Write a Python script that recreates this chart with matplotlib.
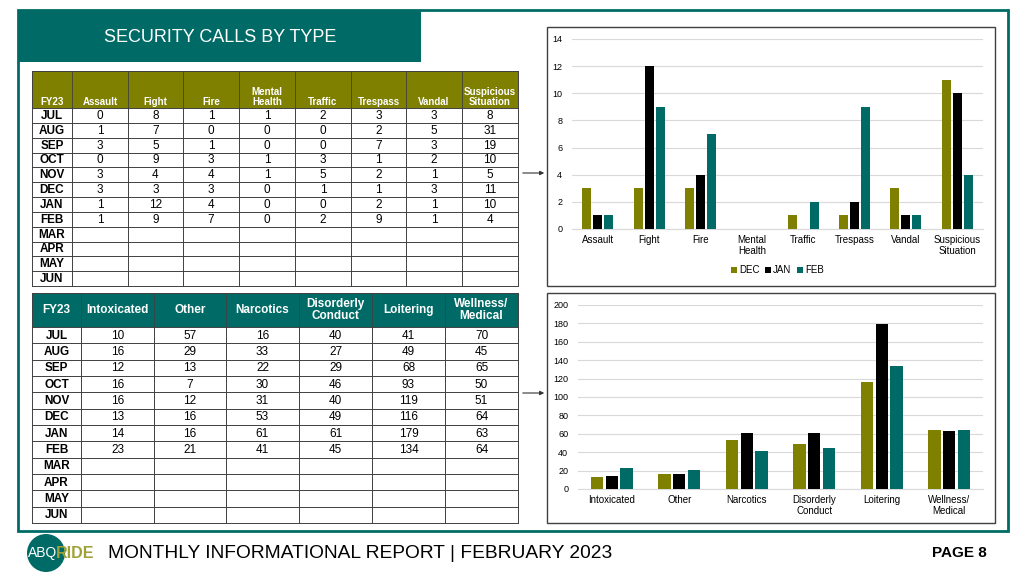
import numpy as np
import matplotlib
matplotlib.use('Agg')
import matplotlib.pyplot as plt
from matplotlib.patches import Rectangle, Circle

plt.rcParams['font.family'] = ['Liberation Sans', 'DejaVu Sans']

# data
months = ['JUL', 'AUG', 'SEP', 'OCT', 'NOV', 'DEC', 'JAN', 'FEB', 'MAR', 'APR', 'MAY', 'JUN']
top_cats = ['Assault', 'Fight', 'Fire', 'Mental\nHealth', 'Traffic', 'Trespass', 'Vandal', 'Suspicious\nSituation']
top_counts = [
    [0, 8, 1, 1, 2, 3, 3, 8],
    [1, 7, 0, 0, 0, 2, 5, 31],
    [3, 5, 1, 0, 0, 7, 3, 19],
    [0, 9, 3, 1, 3, 1, 2, 10],
    [3, 4, 4, 1, 5, 2, 1, 5],
    [3, 3, 3, 0, 1, 1, 3, 11],
    [1, 12, 4, 0, 0, 2, 1, 10],
    [1, 9, 7, 0, 2, 9, 1, 4],
]
bot_cats = ['Intoxicated', 'Other', 'Narcotics', 'Disorderly\nConduct', 'Loitering', 'Wellness/\nMedical']
bot_counts = [
    [10, 57, 16, 40, 41, 70],
    [16, 29, 33, 27, 49, 45],
    [12, 13, 22, 29, 68, 65],
    [16, 7, 30, 46, 93, 50],
    [16, 12, 31, 40, 119, 51],
    [13, 16, 53, 49, 116, 64],
    [14, 16, 61, 61, 179, 63],
    [23, 21, 41, 45, 134, 64],
]
chart_months = ['DEC', 'JAN', 'FEB']

TEAL = '#006b66'
OLIVE = '#808000'
GRID = '#404040'
bar_colors = [OLIVE, '#000000', TEAL]

W, H = 1024, 576
fig = plt.figure(figsize=(W / 100, H / 100), dpi=100)
bg = fig.add_axes([0, 0, 1, 1])
bg.set_xlim(0, W)
bg.set_ylim(H, 0)
bg.axis('off')


def px_axes(x0, y0, x1, y1):
    return fig.add_axes([x0 / W, 1 - y1 / H, (x1 - x0) / W, (y1 - y0) / H])


# slide frame and banner
bg.add_patch(Rectangle((18, 10), 990, 521, fill=False, ec=TEAL, lw=2))
bg.add_patch(Rectangle((18, 10), 403, 52, fc=TEAL, ec='none'))
bg.text(220, 37, 'SECURITY CALLS BY TYPE', color='white', fontsize=13, ha='center', va='center')


def draw_table(cols, y_head0, y_head1, y_end, head_color, cats, counts, head_fs, head_va):
    bg.add_patch(Rectangle((cols[0], y_head0), cols[-1] - cols[0], y_head1 - y_head0, fc=head_color, ec='none'))
    rh = (y_end - y_head1) / len(months)
    labels = ['FY23'] + cats
    for i, lab in enumerate(labels):
        xc = (cols[i] + cols[i + 1]) / 2
        if head_va == 'bottom':
            bg.text(xc, y_head1 - 1, lab, color='white', fontsize=head_fs, fontweight='bold',
                    ha='center', va='bottom', linespacing=1.05)
        else:
            bg.text(xc, (y_head0 + y_head1) / 2, lab, color='white', fontsize=head_fs, fontweight='bold',
                    ha='center', va='center', linespacing=1.05)
        if 0 < i:
            bg.plot([cols[i], cols[i]], [y_head0, y_head1], color=GRID, lw=0.6)
    for r, m in enumerate(months):
        y0 = y_head1 + r * rh
        bg.text((cols[0] + cols[1]) / 2, y0 + rh / 2 + 0.5, m, fontsize=8.5, fontweight='bold',
                ha='center', va='center')
        if r < len(counts):
            for c, v in enumerate(counts[r]):
                bg.text((cols[c + 1] + cols[c + 2]) / 2, y0 + rh / 2 + 0.5, str(v), fontsize=8.5,
                        ha='center', va='center')
    for r in range(len(months) + 1):
        y = y_head1 + r * rh
        bg.plot([cols[0], cols[-1]], [y, y], color=GRID, lw=0.7)
    for x in cols:
        bg.plot([x, x], [y_head1, y_end], color=GRID, lw=0.7)
    bg.plot([cols[0], cols[0]], [y_head0, y_head1], color=GRID, lw=0.7)
    bg.plot([cols[-1], cols[-1]], [y_head0, y_head1], color=GRID, lw=0.7)
    bg.plot([cols[0], cols[-1]], [y_head0, y_head0], color=GRID, lw=0.7)


top_cols = [32, 72, 128, 183, 239, 295, 351, 406, 462, 518]
draw_table(top_cols, 71, 108, 286, OLIVE, top_cats, top_counts, 7, 'bottom')
bot_cols = [32, 81, 154, 226, 299, 372, 445, 518]
draw_table(bot_cols, 293, 327, 523, TEAL, bot_cats, bot_counts, 8.5, 'center')

# chart boxes
bg.add_patch(Rectangle((547, 27), 448, 259, fill=False, ec='#404040', lw=1))
bg.add_patch(Rectangle((547, 293), 448, 230, fill=False, ec='#404040', lw=1))
for ya in (173, 393):
    bg.annotate('', xy=(547, ya), xytext=(520, ya),
                arrowprops=dict(arrowstyle='-|>', color='#333333', lw=0.8, mutation_scale=6))


def bar_chart(ax, cats, counts, ymax, step, width, tick_fs):
    idx = [months.index(m) for m in chart_months]
    x = np.arange(len(cats))
    for k, mi in enumerate(idx):
        ax.bar(x + (k - 1) * width * 1.22, counts[mi], width=width, color=bar_colors[k],
               label=chart_months[k], zorder=3)
    ax.set_xlim(-0.5, len(cats) - 0.5)
    ax.set_ylim(0, ymax)
    ax.set_yticks(np.arange(0, ymax + 1, step))
    ax.set_xticks(x)
    ax.set_xticklabels(cats, fontsize=7, linespacing=1.15)
    ax.tick_params(axis='y', labelsize=tick_fs, length=0, pad=7)
    ax.tick_params(axis='x', length=0, pad=4)
    ax.grid(axis='y', color='#d9d9d9', lw=0.8, zorder=0)
    for s in ['top', 'right', 'left']:
        ax.spines[s].set_visible(False)
    ax.spines['bottom'].set_color('#d9d9d9')
    ax.set_facecolor('none')


ax1 = px_axes(572, 39, 983, 229)
bar_chart(ax1, top_cats, top_counts, 14, 2, 0.175, 6.5)
ax1.legend(loc='center', bbox_to_anchor=(0.5, -0.216), ncol=3, frameon=False, fontsize=7,
           handlelength=0.6, handleheight=0.6, handletextpad=0.2, columnspacing=0.6)

ax2 = px_axes(578, 305, 983, 489)
bar_chart(ax2, bot_cats, bot_counts, 200, 20, 0.18, 6.5)

# footer
bg.add_patch(Circle((46, 553), 19, fc=TEAL, ec='none'))
bg.text(43, 553, 'ABQ', color='white', fontsize=10, ha='center', va='center')
bg.text(56, 553, 'RIDE', color='#9ea236', fontsize=11.5, fontweight='bold', ha='left', va='center')
bg.text(108, 554, 'MONTHLY INFORMATIONAL REPORT | FEBRUARY 2023', fontsize=13.8, ha='left', va='center')
bg.text(987, 553, 'PAGE 8', fontsize=11, fontweight='bold', ha='right', va='center')

fig.savefig('out.png', dpi=100)
